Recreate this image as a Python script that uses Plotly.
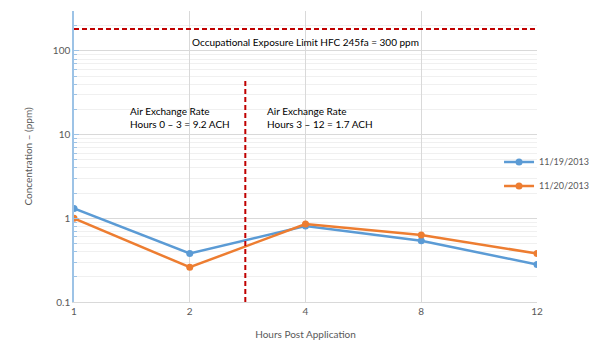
import plotly.graph_objects as go

hours = ["1", "2", "4", "8", "12"]
series_1119 = [1.31, 0.38, 0.81, 0.54, 0.28]
series_1120 = [1.0, 0.26, 0.855, 0.63, 0.38]
exposure_limit_line = 183
divider_x = 1.48
divider_top = 45

FONT = "Lato"
GRAY = "#595959"
xi = list(range(len(hours)))

fig = go.Figure()
fig.add_trace(go.Scatter(x=xi, y=series_1119, name="11/19/2013", mode="lines+markers",
                         line=dict(color="#5b9bd5", width=2.5), marker=dict(size=7, color="#5b9bd5"),
                         legendgroup="a"))
fig.add_trace(go.Scatter(x=xi, y=series_1120, name="11/20/2013", mode="lines+markers",
                         line=dict(color="#ed7d31", width=2.5), marker=dict(size=7, color="#ed7d31"),
                         legendgroup="b"))
fig.add_trace(go.Scatter(x=[0, 4], y=[exposure_limit_line, exposure_limit_line], mode="lines",
                         line=dict(color="#c00000", width=2, dash="5px,3px"), showlegend=False, hoverinfo="skip"))
fig.add_trace(go.Scatter(x=[divider_x, divider_x], y=[0.1, divider_top], mode="lines",
                         line=dict(color="#c00000", width=2, dash="5px,3px"), showlegend=False, hoverinfo="skip"))

fig.add_annotation(x=2, y=2.11, xref="x", yref="y", yanchor="middle",
                   text="Occupational Exposure Limit HFC 245fa = 300 ppm",
                   showarrow=False, font=dict(size=10, color="black", family=FONT))
fig.add_annotation(x=0.47, y=1.2, xref="x", yref="y", xanchor="left", align="left",
                   text="Air Exchange Rate<br>Hours 0 – 3 = 9.2 ACH",
                   showarrow=False, font=dict(size=10, color="black", family=FONT))
fig.add_annotation(x=1.65, y=1.2, xref="x", yref="y", xanchor="left", align="left",
                   text="Air Exchange Rate<br>Hours 3 – 12 = 1.7 ACH",
                   showarrow=False, font=dict(size=10, color="black", family=FONT))

fig.update_layout(
    width=615, height=350,
    margin=dict(l=74, r=78, t=11, b=48),
    paper_bgcolor="white", plot_bgcolor="white",
    font=dict(family=FONT, size=10, color=GRAY),
    showlegend=True,
    legend=dict(x=0.918, y=0.531, xanchor="left", yanchor="top", bgcolor="rgba(0,0,0,0)",
                font=dict(size=9, color=GRAY), tracegroupgap=5, itemwidth=30),
    xaxis=dict(range=[0, 4], tickmode="array", tickvals=xi, ticktext=hours,
               showgrid=True, gridcolor="#d9d9d9", gridwidth=1,
               showline=True, linecolor="#d9d9d9", linewidth=1, ticks="", zeroline=False,
               title=dict(text="Hours Post Application", font=dict(size=10, color=GRAY), standoff=14)),
    yaxis=dict(type="log", range=[-1, 2.477], dtick=1, showgrid=True, gridcolor="#d9d9d9", gridwidth=1,
               showline=True, linecolor="#9dc3e6", linewidth=1.5, ticks="inside", tickcolor="#9dc3e6", ticklen=5,
               minor=dict(dtick="D1", showgrid=True, gridcolor="#f0f0f0", ticks="inside", ticklen=3, tickcolor="#9dc3e6"),
               zeroline=False,
               title=dict(text="Concentration – (ppm)", font=dict(size=10, color=GRAY), standoff=18)),
)
fig.write_html("out.html")
